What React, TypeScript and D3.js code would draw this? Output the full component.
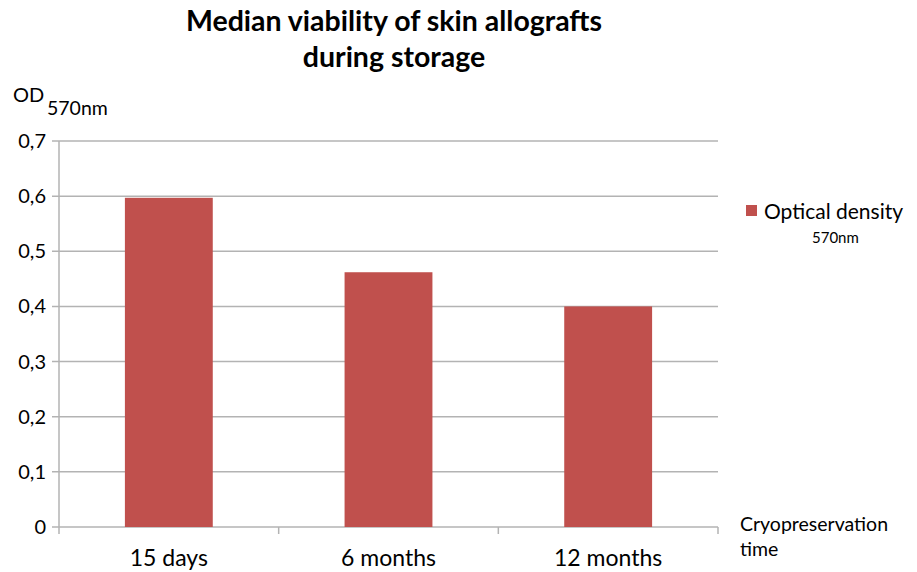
import React from "react";
import * as d3 from "d3";

const categories = ["15 days", "6 months", "12 months"];
const medianOD = [0.597, 0.462, 0.4];
const yTicks = [0, 0.1, 0.2, 0.3, 0.4, 0.5, 0.6, 0.7];
const titleLines = ["Median viability of skin allografts", "during storage"];

const W = 917;
const H = 572;
const left = 59;
const right = 718;
const top = 141;
const bottom = 527;
const font = "Lato, 'Open Sans', sans-serif";
const barColor = "#C0504D";
const gridColor = "#B3B3B3";

export default function App() {
  const x = d3.scaleBand<string>().domain(categories).range([left, right]).paddingInner(0).paddingOuter(0);
  const y = d3.scaleLinear().domain([0, 0.7]).range([bottom, top]);
  const bw = x.bandwidth() * 0.4;
  const fmt = (v: number) => d3.format(".1f")(v).replace(".", ",");

  return (
    <svg width={W} height={H} style={{ position: "absolute", left: 0, top: 0, background: "#fff" }} fontFamily={font}>
      {titleLines.map((t, i) => (
        <text key={t} x={394} y={31 + i * 36} textAnchor="middle" fontSize={28.5} fontWeight="bold" fill="#000">
          {t}
        </text>
      ))}
      <text x={13} y={102} fontSize={20} fill="#000">OD</text>
      <text x={47} y={115} fontSize={19.5} fill="#000">570nm</text>

      {yTicks.map((t) => (
        <g key={t}>
          <line x1={left - 7} x2={right} y1={y(t)} y2={y(t)} stroke={gridColor} strokeWidth={1.5} />
          <text x={46} y={y(t) + 7} textAnchor="end" fontSize={20} fill="#000">
            {t === 0 ? "0" : fmt(t)}
          </text>
        </g>
      ))}
      <line x1={left} x2={left} y1={top} y2={bottom + 7} stroke={gridColor} strokeWidth={1.5} />
      {categories.map((c) => (
        <line key={c + "tick"} x1={x(c)! + x.bandwidth()} x2={x(c)! + x.bandwidth()} y1={bottom} y2={bottom + 7} stroke={gridColor} strokeWidth={1.5} />
      ))}

      {categories.map((c, i) => (
        <rect
          key={c}
          x={x(c)! + (x.bandwidth() - bw) / 2}
          y={y(medianOD[i])}
          width={bw}
          height={y(0) - y(medianOD[i])}
          fill={barColor}
        />
      ))}
      {categories.map((c) => (
        <text key={c + "lbl"} x={x(c)! + x.bandwidth() / 2} y={566} textAnchor="middle" fontSize={23} fill="#000">
          {c}
        </text>
      ))}

      <text x={740} y={531} fontSize={19.5} fill="#000">Cryopreservation</text>
      <text x={740} y={556} fontSize={19.5} fill="#000">time</text>

      <rect x={746} y={205} width={11} height={11} fill={barColor} />
      <text x={764} y={219} fontSize={21} fill="#000">Optical density</text>
      <text x={812} y={243} fontSize={15} fill="#000">570nm</text>
    </svg>
  );
}
